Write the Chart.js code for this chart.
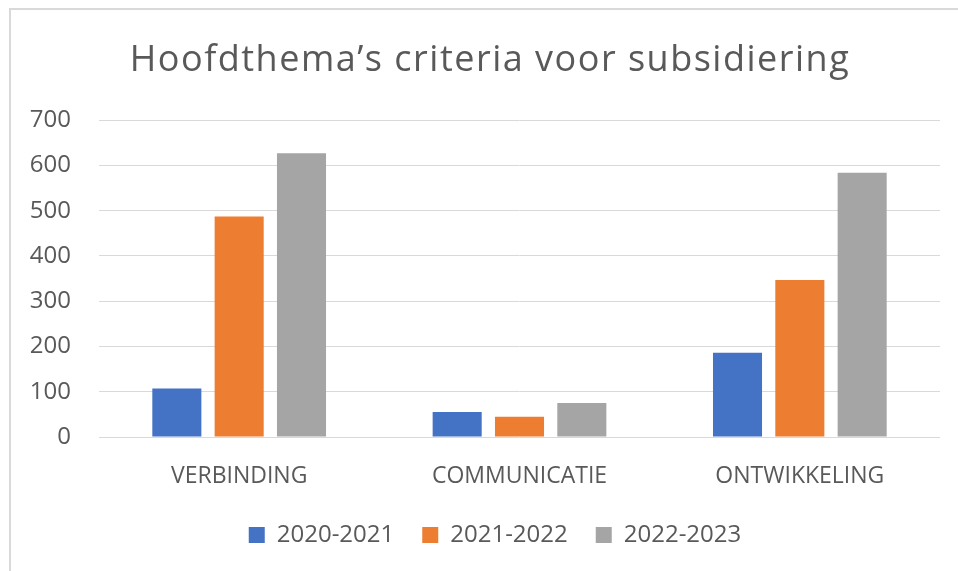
<!DOCTYPE html>
<html lang="nl">
<head>
<meta charset="utf-8">
<title>Hoofdthema’s criteria voor subsidiering</title>
<script src="https://cdn.jsdelivr.net/npm/chart.js@4/dist/chart.umd.min.js"></script>
<style>
  html, body { margin: 0; padding: 0; background: #fff; overflow: hidden; }
  #wrap { position: relative; width: 958px; height: 571px; }
  #frame {
    position: absolute; left: 9px; top: 8px; width: 1000px; height: 620px;
    border: 2px solid #d9d9d9; box-sizing: border-box;
  }
  #chart { position: absolute; left: 0; top: 0; }
</style>
</head>
<body>
<div id="wrap">
  <div id="frame"></div>
  <canvas id="chart" width="958" height="571"></canvas>
</div>
<script>
const categories = ['VERBINDING', 'COMMUNICATIE', 'ONTWIKKELING'];
const seriesNames = ['2020-2021', '2021-2022', '2022-2023'];
const values2020 = [107, 55, 186];
const values2021 = [487, 45, 347];
const values2022 = [627, 75, 584];
const yTicks = [0, 100, 200, 300, 400, 500, 600, 700];

const colors = ['#4472c4', '#ed7d31', '#a5a5a5'];
const textColor = '#595959';
const fontFamily = '"Open Sans", "DejaVu Sans", sans-serif';

// title gets a bit of letter spacing; title and legend are nudged right
// so they centre on the framed area rather than the whole canvas
const titleLegendTweaks = {
  id: 'titleLegendTweaks',
  afterInit(chart) {
    const block = chart.titleBlock;
    if (!block) return;
    const draw = block.draw.bind(block);
    block.draw = function () {
      const c = chart.ctx;
      c.save();
      c.letterSpacing = '1.5px';
      draw();
      c.restore();
    };
  },
  afterLayout(chart) {
    if (chart.titleBlock) {
      chart.titleBlock.left += 20;
      chart.titleBlock.right += 20;
    }
    if (chart.legend) {
      chart.legend.left += 25;
      chart.legend.right += 25;
    }
  }
};

const ctx = document.getElementById('chart').getContext('2d');
new Chart(ctx, {
  type: 'bar',
  data: {
    labels: categories,
    datasets: [values2020, values2021, values2022].map((data, i) => ({
      label: seriesNames[i],
      data: data,
      backgroundColor: colors[i],
      borderWidth: 0,
      categoryPercentage: 0.667,
      barPercentage: 0.787
    }))
  },
  options: {
    responsive: false,
    animation: false,
    devicePixelRatio: 1,
    layout: { padding: { left: 0, right: 18, top: 0, bottom: 14 } },
    plugins: {
      title: {
        display: true,
        text: 'Hoofdthema’s criteria voor subsidiering',
        color: textColor,
        font: { family: fontFamily, size: 36, weight: 'normal', lineHeight: 1.2 },
        padding: { top: 39, bottom: 38 }
      },
      legend: {
        position: 'bottom',
        labels: {
          color: textColor,
          font: { family: fontFamily, size: 24 },
          boxWidth: 16,
          boxHeight: 16,
          padding: 28
        }
      },
      tooltip: { enabled: false }
    },
    scales: {
      x: {
        grid: { display: false },
        border: { display: false },
        ticks: {
          color: textColor,
          font: { family: fontFamily, size: 23 },
          padding: 18
        },
        afterFit: (scale) => { scale.height = 58; }
      },
      y: {
        min: 0,
        max: 700,
        afterBuildTicks: (scale) => { scale.ticks = yTicks.map(v => ({ value: v })); },
        grid: { color: '#d9d9d9', lineWidth: 1, drawTicks: false },
        border: { display: false },
        ticks: {
          color: textColor,
          font: { family: fontFamily, size: 24 },
          padding: 28
        },
        afterFit: (scale) => { scale.width = 99; }
      }
    }
  },
  plugins: [titleLegendTweaks]
});
</script>
</body>
</html>
